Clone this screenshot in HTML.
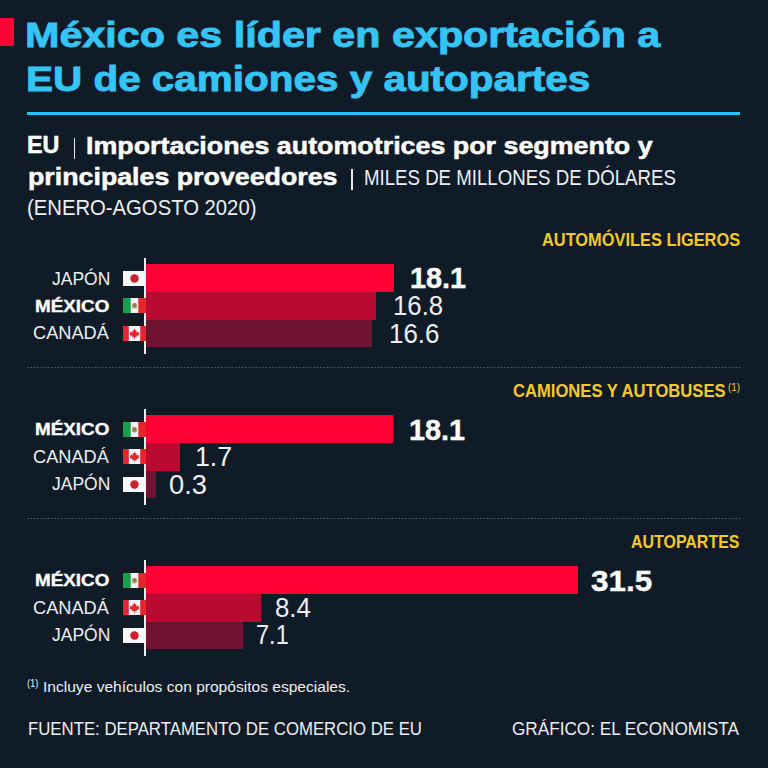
<!DOCTYPE html>
<html><head><meta charset="utf-8"><style>
html,body{margin:0;padding:0;}
body{width:768px;height:768px;overflow:hidden;background:#101b28;position:relative;font-family:"Liberation Sans",sans-serif;}
.t{position:absolute;white-space:nowrap;line-height:1;transform-origin:0 50%;}
.r{position:absolute;}
.f{position:absolute;display:block;}
.dot{position:absolute;left:26.8px;width:715px;height:1.4px;background-image:linear-gradient(to right,#505a6b 0 1.4px,transparent 1.4px);background-size:3.41px 1.4px;}
</style></head><body>
<div id="t1" class="t" style="left:25.42px;top:17.17px;font-size:35px;font-weight:700;color:#34c4f5;transform:scaleX(1.1791);-webkit-text-stroke:0.9px #34c4f5;">México es líder en exportación a</div>
<div id="t2" class="t" style="left:25.97px;top:60.97px;font-size:35px;font-weight:700;color:#34c4f5;transform:scaleX(1.1556);-webkit-text-stroke:0.9px #34c4f5;">EU de camiones y autopartes</div>
<div id="s1a" class="t" style="left:27.48px;top:133.46px;font-size:24.5px;font-weight:700;color:#ffffff;transform:scaleX(0.9502);-webkit-text-stroke:0.5px #ffffff;">EU</div>
<div id="s1b" class="t" style="left:86.41px;top:133.88px;font-size:24px;font-weight:700;color:#ffffff;transform:scaleX(1.1181);-webkit-text-stroke:0.5px #ffffff;">Importaciones automotrices por segmento y</div>
<div id="s2a" class="t" style="left:27.63px;top:164.88px;font-size:24px;font-weight:700;color:#ffffff;transform:scaleX(1.1153);-webkit-text-stroke:0.5px #ffffff;">principales proveedores</div>
<div id="s2b" class="t" style="left:363.93px;top:167.60px;font-size:21.5px;font-weight:400;color:#eceff3;transform:scaleX(0.8672);">MILES DE MILLONES DE DÓLARES</div>
<div id="s3" class="t" style="left:26.77px;top:198.40px;font-size:21.5px;font-weight:400;color:#eceff3;transform:scaleX(0.9428);">(ENERO-AGOSTO 2020)</div>
<div id="h1" class="t" style="left:542.16px;top:229.72px;font-size:19px;font-weight:700;color:#f6c922;transform:scaleX(0.8622);">AUTOMÓVILES LIGEROS</div>
<div id="h2" class="t" style="left:513.09px;top:381.02px;font-size:19px;font-weight:700;color:#f6c922;transform:scaleX(0.8742);">CAMIONES Y AUTOBUSES</div>
<div id="h2s" class="t" style="left:727.74px;top:382.03px;font-size:10.6px;font-weight:400;color:#f6c922;transform:scaleX(0.9296);">(1)</div>
<div id="h3" class="t" style="left:631.46px;top:531.82px;font-size:19px;font-weight:700;color:#f6c922;transform:scaleX(0.8394);">AUTOPARTES</div>
<div id="fn1" class="t" style="left:27.24px;top:679.03px;font-size:10px;font-weight:400;color:#eceff3;transform:scaleX(0.9376);">(1)</div>
<div id="fn2" class="t" style="left:43.29px;top:678.68px;font-size:15.5px;font-weight:400;color:#eceff3;transform:scaleX(1.0041);">Incluye vehículos con propósitos especiales.</div>
<div id="ft1" class="t" style="left:27.68px;top:719.12px;font-size:19px;font-weight:400;color:#eceff3;transform:scaleX(0.8830);">FUENTE: DEPARTAMENTO DE COMERCIO DE EU</div>
<div id="ft2" class="t" style="left:512.19px;top:719.12px;font-size:19px;font-weight:400;color:#eceff3;transform:scaleX(0.9033);">GRÁFICO: EL ECONOMISTA</div>
<div id="l00" class="t" style="left:51.51px;top:270.16px;font-size:18px;font-weight:400;color:#eceff3;transform:scaleX(0.9707);">JAPÓN</div>
<div id="l01" class="t" style="left:34.79px;top:298.04px;font-size:17.2px;font-weight:700;color:#ffffff;transform:scaleX(1.0958);-webkit-text-stroke:0.4px #ffffff;">MÉXICO</div>
<div id="l02" class="t" style="left:32.59px;top:324.26px;font-size:18px;font-weight:400;color:#eceff3;transform:scaleX(1.0107);">CANADÁ</div>
<div id="l10" class="t" style="left:34.79px;top:420.94px;font-size:17.2px;font-weight:700;color:#ffffff;transform:scaleX(1.0958);-webkit-text-stroke:0.4px #ffffff;">MÉXICO</div>
<div id="l11" class="t" style="left:32.59px;top:448.36px;font-size:18px;font-weight:400;color:#eceff3;transform:scaleX(1.0107);">CANADÁ</div>
<div id="l12" class="t" style="left:51.51px;top:475.26px;font-size:18px;font-weight:400;color:#eceff3;transform:scaleX(0.9707);">JAPÓN</div>
<div id="l20" class="t" style="left:34.79px;top:571.94px;font-size:17.2px;font-weight:700;color:#ffffff;transform:scaleX(1.0958);-webkit-text-stroke:0.4px #ffffff;">MÉXICO</div>
<div id="l21" class="t" style="left:32.59px;top:599.36px;font-size:18px;font-weight:400;color:#eceff3;transform:scaleX(1.0107);">CANADÁ</div>
<div id="l22" class="t" style="left:51.51px;top:626.26px;font-size:18px;font-weight:400;color:#eceff3;transform:scaleX(0.9707);">JAPÓN</div>
<div id="v00" class="t" style="left:409.60px;top:262.71px;font-size:30px;font-weight:700;color:#ffffff;transform:scaleX(0.9611);-webkit-text-stroke:0.4px #ffffff;">18.1</div>
<div id="v01" class="t" style="left:393.09px;top:292.07px;font-size:27.8px;font-weight:400;color:#eceff3;transform:scaleX(0.9270);">16.8</div>
<div id="v02" class="t" style="left:389.18px;top:319.87px;font-size:27.8px;font-weight:400;color:#eceff3;transform:scaleX(0.9328);">16.6</div>
<div id="v10" class="t" style="left:409.45px;top:414.61px;font-size:30px;font-weight:700;color:#ffffff;transform:scaleX(0.9603);-webkit-text-stroke:0.4px #ffffff;">18.1</div>
<div id="v11" class="t" style="left:195.23px;top:443.17px;font-size:27.8px;font-weight:400;color:#eceff3;transform:scaleX(0.9614);">1.7</div>
<div id="v12" class="t" style="left:169.45px;top:470.57px;font-size:27.8px;font-weight:400;color:#eceff3;transform:scaleX(0.9823);">0.3</div>
<div id="v20" class="t" style="left:591.21px;top:565.71px;font-size:30px;font-weight:700;color:#ffffff;transform:scaleX(1.0494);-webkit-text-stroke:0.4px #ffffff;">31.5</div>
<div id="v21" class="t" style="left:274.89px;top:593.97px;font-size:27.8px;font-weight:400;color:#eceff3;transform:scaleX(0.9276);">8.4</div>
<div id="v22" class="t" style="left:256.20px;top:621.27px;font-size:27.8px;font-weight:400;color:#eceff3;transform:scaleX(0.8477);">7.1</div>
<div class="r" style="left:0px;top:18px;width:14.3px;height:28.4px;background:#ff0034;"></div>
<div class="r" style="left:27.2px;top:112px;width:712.8px;height:3px;background:#22c6f4;"></div>
<div class="r" style="left:73.6px;top:138px;width:1.6px;height:20.5px;background:#e8ecf0;"></div>
<div class="r" style="left:351.2px;top:169px;width:1.6px;height:20.5px;background:#e8ecf0;"></div>
<div class="r" style="left:144px;top:257.5px;width:1.8px;height:96.5px;background:#eceef0;"></div>
<div class="r" style="left:146px;top:264px;width:248px;height:28px;background:#ff0034;"></div>
<svg class="f" style="left:123px;top:270.5px" width="23" height="15" viewBox="0 0 23 15"><rect width="23" height="15" fill="#f7f7f7"/><circle cx="11.5" cy="7.5" r="4.2" fill="#c8202f"/></svg>
<div class="r" style="left:146px;top:292px;width:230px;height:27.5px;background:#b90b32;"></div>
<svg class="f" style="left:123px;top:298.25px" width="23" height="15" viewBox="0 0 23 15"><rect width="23" height="15" fill="#f4f4f4"/><rect width="7.7" height="15" fill="#12a04a"/><rect x="15.3" width="7.7" height="15" fill="#e8252d"/><ellipse cx="11.5" cy="7.3" rx="2.4" ry="2.2" fill="#a07a40"/><path d="M9.2 9.2 Q11.5 11 13.8 9.2" stroke="#3a8a3a" stroke-width="0.8" fill="none"/></svg>
<div class="r" style="left:146px;top:319.5px;width:226px;height:27.5px;background:#701231;"></div>
<svg class="f" style="left:123px;top:325.75px" width="23" height="15" viewBox="0 0 23 15"><rect width="23" height="15" fill="#f7f7f7"/><rect width="5.8" height="15" fill="#e8252d"/><rect x="17.2" width="5.8" height="15" fill="#e8252d"/><path d="M11.5 2.6 L12.4 4.6 L13.5 4.1 L13.1 6.6 L14.6 5.6 L15 6.6 L16.3 6.3 L15.7 8.1 L16.3 8.5 L13.4 10.6 L13.7 11.4 L11.8 11.1 L11.8 13 L11.2 13 L11.2 11.1 L9.3 11.4 L9.6 10.6 L6.7 8.5 L7.3 8.1 L6.7 6.3 L8 6.6 L8.4 5.6 L9.9 6.6 L9.5 4.1 L10.6 4.6 Z" fill="#e8252d"/></svg>
<div class="r" style="left:144px;top:408.5px;width:1.8px;height:96.5px;background:#eceef0;"></div>
<div class="r" style="left:146px;top:415px;width:247px;height:28px;background:#ff0034;"></div>
<svg class="f" style="left:123px;top:421.5px" width="23" height="15" viewBox="0 0 23 15"><rect width="23" height="15" fill="#f4f4f4"/><rect width="7.7" height="15" fill="#12a04a"/><rect x="15.3" width="7.7" height="15" fill="#e8252d"/><ellipse cx="11.5" cy="7.3" rx="2.4" ry="2.2" fill="#a07a40"/><path d="M9.2 9.2 Q11.5 11 13.8 9.2" stroke="#3a8a3a" stroke-width="0.8" fill="none"/></svg>
<div class="r" style="left:146px;top:443px;width:34px;height:27.5px;background:#b90b32;"></div>
<svg class="f" style="left:123px;top:449.25px" width="23" height="15" viewBox="0 0 23 15"><rect width="23" height="15" fill="#f7f7f7"/><rect width="5.8" height="15" fill="#e8252d"/><rect x="17.2" width="5.8" height="15" fill="#e8252d"/><path d="M11.5 2.6 L12.4 4.6 L13.5 4.1 L13.1 6.6 L14.6 5.6 L15 6.6 L16.3 6.3 L15.7 8.1 L16.3 8.5 L13.4 10.6 L13.7 11.4 L11.8 11.1 L11.8 13 L11.2 13 L11.2 11.1 L9.3 11.4 L9.6 10.6 L6.7 8.5 L7.3 8.1 L6.7 6.3 L8 6.6 L8.4 5.6 L9.9 6.6 L9.5 4.1 L10.6 4.6 Z" fill="#e8252d"/></svg>
<div class="r" style="left:146px;top:470.5px;width:10px;height:27.5px;background:#701231;"></div>
<svg class="f" style="left:123px;top:476.75px" width="23" height="15" viewBox="0 0 23 15"><rect width="23" height="15" fill="#f7f7f7"/><circle cx="11.5" cy="7.5" r="4.2" fill="#c8202f"/></svg>
<div class="r" style="left:144px;top:559.5px;width:1.8px;height:96.5px;background:#eceef0;"></div>
<div class="r" style="left:146px;top:566px;width:432px;height:28px;background:#ff0034;"></div>
<svg class="f" style="left:123px;top:572.5px" width="23" height="15" viewBox="0 0 23 15"><rect width="23" height="15" fill="#f4f4f4"/><rect width="7.7" height="15" fill="#12a04a"/><rect x="15.3" width="7.7" height="15" fill="#e8252d"/><ellipse cx="11.5" cy="7.3" rx="2.4" ry="2.2" fill="#a07a40"/><path d="M9.2 9.2 Q11.5 11 13.8 9.2" stroke="#3a8a3a" stroke-width="0.8" fill="none"/></svg>
<div class="r" style="left:146px;top:594px;width:114.6px;height:27.5px;background:#b90b32;"></div>
<svg class="f" style="left:123px;top:600.25px" width="23" height="15" viewBox="0 0 23 15"><rect width="23" height="15" fill="#f7f7f7"/><rect width="5.8" height="15" fill="#e8252d"/><rect x="17.2" width="5.8" height="15" fill="#e8252d"/><path d="M11.5 2.6 L12.4 4.6 L13.5 4.1 L13.1 6.6 L14.6 5.6 L15 6.6 L16.3 6.3 L15.7 8.1 L16.3 8.5 L13.4 10.6 L13.7 11.4 L11.8 11.1 L11.8 13 L11.2 13 L11.2 11.1 L9.3 11.4 L9.6 10.6 L6.7 8.5 L7.3 8.1 L6.7 6.3 L8 6.6 L8.4 5.6 L9.9 6.6 L9.5 4.1 L10.6 4.6 Z" fill="#e8252d"/></svg>
<div class="r" style="left:146px;top:621.5px;width:96.7px;height:27.5px;background:#701231;"></div>
<svg class="f" style="left:123px;top:627.75px" width="23" height="15" viewBox="0 0 23 15"><rect width="23" height="15" fill="#f7f7f7"/><circle cx="11.5" cy="7.5" r="4.2" fill="#c8202f"/></svg>
<div class="dot" style="top:366.8px"></div>
<div class="dot" style="top:517.7px"></div>
</body></html>
